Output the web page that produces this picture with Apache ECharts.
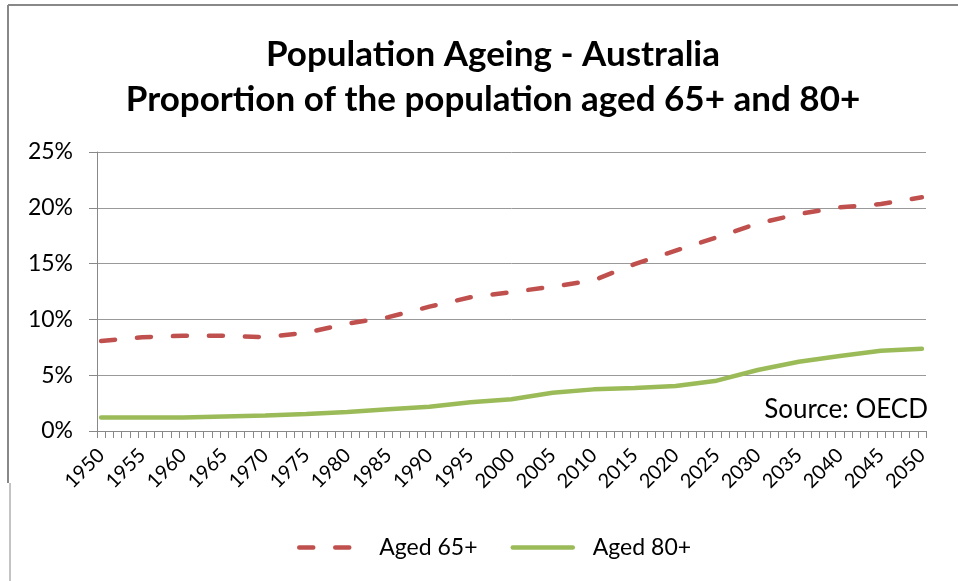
<!DOCTYPE html>
<html>
<head>
<meta charset="utf-8">
<script src="https://cdn.jsdelivr.net/npm/echarts@6/dist/echarts.min.js"></script>
<style>html,body{margin:0;padding:0;background:#fff}#c{width:958px;height:581px}</style>
</head>
<body>
<div id="c"></div>
<script>
// Years with readings (every 5 years); the axis has one category per year
const yearsRead = [1950,1955,1960,1965,1970,1975,1980,1985,1990,1995,2000,2005,2010,2015,2020,2025,2030,2035,2040,2045,2050];
const aged65 = [8.06,8.4,8.54,8.54,8.4,8.8,9.62,10.2,11.14,11.98,12.45,12.93,13.5,14.96,16.16,17.35,18.6,19.44,20.04,20.34,20.94];
const aged80 = [1.2,1.2,1.2,1.31,1.39,1.52,1.7,1.94,2.18,2.57,2.84,3.43,3.73,3.85,4.03,4.51,5.47,6.21,6.72,7.2,7.37];
const firstYear = 1950, lastYear = 2050;

const categories = [];
for (let y = firstYear; y <= lastYear; y++) categories.push(String(y));
function expand(vals){
  const out = categories.map(() => null);
  yearsRead.forEach((yr, i) => { out[yr - firstYear] = vals[i]; });
  return out;
}

const FONT = 'Lato';
const chart = echarts.init(document.getElementById('c'), null, {renderer: 'canvas'});
chart.setOption({
  animation: false,
  backgroundColor: '#fff',
  textStyle: {fontFamily: FONT},
  title: {
    text: 'Population Ageing - Australia\nProportion of the population aged 65+ and 80+',
    left: 488, top: 27, textAlign: 'center',
    textStyle: {fontFamily: FONT, fontSize: 35, fontWeight: 'bold', color: '#000', lineHeight: 45}
  },
  legend: {
    top: 531, left: 292,
    itemWidth: 60, itemHeight: 14, itemGap: 33,
    itemStyle: {opacity: 0},
    lineStyle: {width: 4.5, cap: 'round'},
    textStyle: {fontFamily: FONT, fontSize: 23, color: '#000', padding: [0, 0, 0, 15]},
    data: ['Aged 65+', 'Aged 80+']
  },
  grid: {left: 97, right: 32, top: 152, bottom: 150, containLabel: false},
  xAxis: {
    type: 'category', data: categories, boundaryGap: true,
    axisLine: {lineStyle: {color: '#888', width: 1}},
    axisTick: {show: true, interval: 0, length: 7, lineStyle: {color: '#888'}},
    axisLabel: {interval: 4, rotate: 45, fontFamily: FONT, fontSize: 20, color: '#000', margin: 21}
  },
  yAxis: {
    type: 'value', min: 0, max: 25, interval: 5,
    axisLine: {show: true, lineStyle: {color: '#888'}},
    axisTick: {show: true, length: 8, lineStyle: {color: '#888'}},
    axisLabel: {formatter: v => v + '%', fontFamily: FONT, fontSize: 23, color: '#000', margin: 24},
    splitLine: {lineStyle: {color: '#999', width: 1}}
  },
  series: [
    {
      name: 'Aged 65+', type: 'line', data: expand(aged65), connectNulls: true,
      showSymbol: false, symbol: 'none', color: '#C0504D',
      lineStyle: {color: '#C0504D', width: 4.5, type: [14, 22], cap: 'round'}
    },
    {
      name: 'Aged 80+', type: 'line', data: expand(aged80), connectNulls: true,
      showSymbol: false, symbol: 'none', color: '#9BBB59',
      lineStyle: {color: '#9BBB59', width: 4.5, cap: 'round'}
    }
  ],
  graphic: [
    {type: 'line', shape: {x1: 8, y1: 5, x2: 958, y2: 5}, style: {stroke: '#888', lineWidth: 2}},
    {type: 'line', shape: {x1: 8, y1: 5, x2: 8, y2: 483}, style: {stroke: '#888', lineWidth: 2}},
    {type: 'line', shape: {x1: 10, y1: 483, x2: 10, y2: 581}, style: {stroke: '#888', lineWidth: 1}},
    {type: 'text', right: 30, top: 397, style: {text: 'Source: OECD', fontFamily: FONT, fontSize: 26, fill: '#000'}}
  ]
});
</script>
</body>
</html>
